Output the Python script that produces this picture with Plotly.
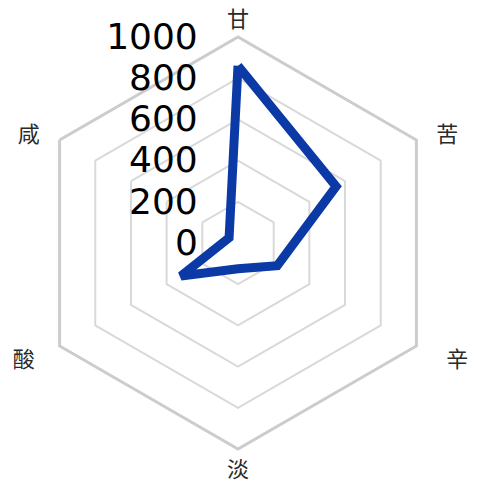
import plotly.graph_objects as go

categories = ["甘", "苦", "辛", "淡", "酸", "咸"]
values = [860, 550, 220, 125, 320, 50]
tick_values = [0, 200, 400, 600, 800, 1000]
tick_labels = ["0", "200", "400", "600", "800", "1000"]

W, H = 477, 484
cx, cy, R = 238, 243, 206

nb = "\u00a0"
# side padding so that labels sit a little further out horizontally
cat_text = ["甘", nb * 3 + "苦", nb * 5 + "辛", "淡", "酸" + nb * 4, "咸" + nb * 3]

fig = go.Figure()
fig.add_trace(go.Scatterpolar(
    r=values + values[:1],
    theta=categories + categories[:1],
    mode="lines",
    line=dict(color="#0b3aa6", width=9),
    showlegend=False,
    hoverinfo="skip",
))

fig.update_layout(
    width=W, height=H,
    margin=dict(l=0, r=0, t=0, b=0),
    paper_bgcolor="white",
    plot_bgcolor="white",
    polar=dict(
        domain=dict(x=[(cx - R) / W, (cx + R) / W], y=[1 - (cy + R) / H, 1 - (cy - R) / H]),
        bgcolor="white",
        gridshape="linear",
        radialaxis=dict(
            range=[0, 1000],
            tickvals=tick_values,
            ticktext=[t + nb * 3 for t in tick_labels],
            angle=90,
            tickangle=90,
            side="counterclockwise",
            showline=False,
            ticks="",
            gridcolor="#d9d9d9",
            gridwidth=2,
            tickfont=dict(family="DejaVu Sans", size=36, color="black"),
        ),
        angularaxis=dict(
            categoryarray=categories,
            categoryorder="array",
            tickvals=categories,
            ticktext=cat_text,
            direction="clockwise",
            rotation=90,
            showgrid=False,
            showline=True,
            linecolor="#cccccc",
            linewidth=3,
            ticks="",
            tickfont=dict(family="Noto Sans CJK SC", size=22, color="#2a2a2a"),
        ),
    ),
)

fig.write_html("out.html")
